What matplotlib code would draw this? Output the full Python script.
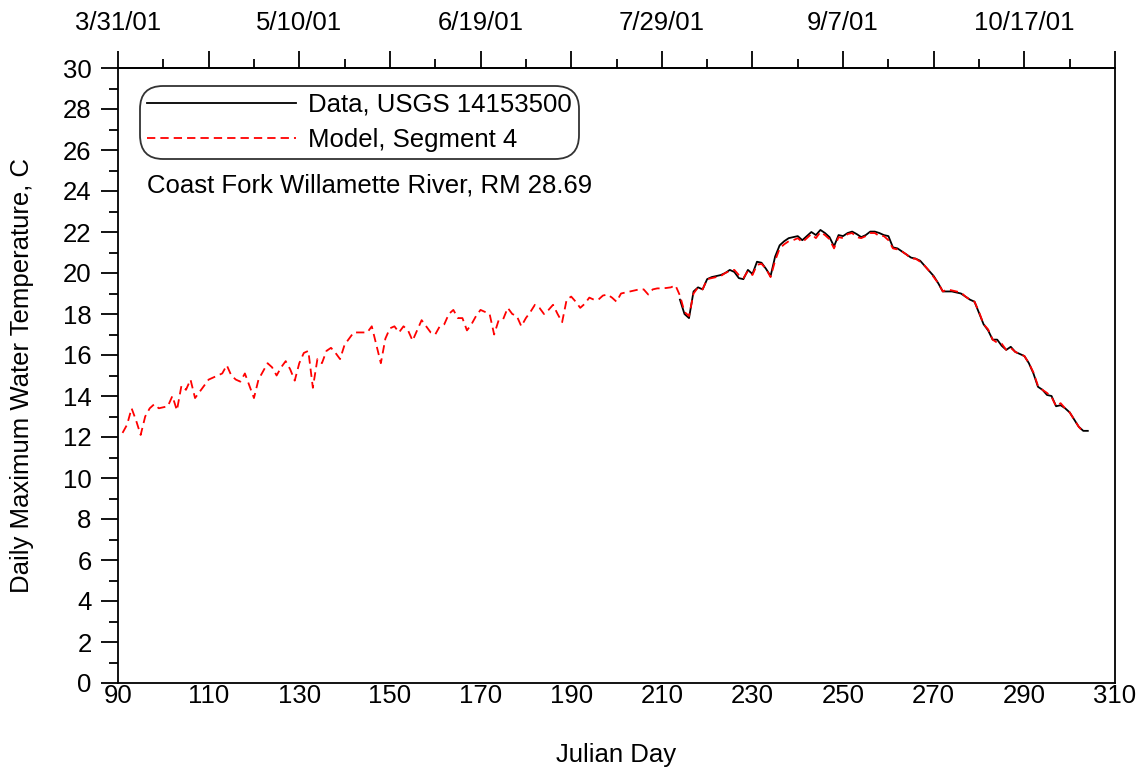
import matplotlib
matplotlib.use("Agg")
import matplotlib.pyplot as plt
from matplotlib.ticker import MultipleLocator, FixedLocator, FixedFormatter

plt.rcParams['font.family'] = ['Liberation Sans', 'DejaVu Sans']

# ---------------- data ----------------
model_start_day = 91
model_temp = [
    12.2, 12.6, 13.4, 12.8, 12.1, 13.0, 13.4, 13.6, 13.4, 13.45,   # 91-100
    13.5, 14.0, 13.3, 14.5, 14.3, 14.8, 13.9, 14.2, 14.5, 14.8,    # 101-110
    14.9, 15.0, 15.1, 15.5, 15.0, 14.8, 14.7, 15.1, 14.5, 13.9,    # 111-120
    14.8, 15.2, 15.6, 15.4, 15.0, 15.4, 15.7, 15.3, 14.75, 15.6,   # 121-130
    16.1, 16.2, 14.4, 15.8, 15.6, 16.2, 16.35, 16.1, 15.8, 16.5,   # 131-140
    16.8, 17.1, 17.1, 17.1, 17.1, 17.4, 16.5, 15.6, 16.8, 17.3,    # 141-150
    17.4, 17.1, 17.4, 17.2, 16.7, 17.2, 17.7, 17.4, 17.1, 17.0,    # 151-160
    17.4, 17.5, 18.0, 18.2, 17.8, 17.8, 17.2, 17.5, 17.9, 18.2,    # 161-170
    18.1, 18.0, 17.0, 17.7, 17.75, 18.3, 18.0, 17.9, 17.4, 17.8,   # 171-180
    18.1, 18.45, 18.3, 18.0, 18.2, 18.45, 18.0, 17.6, 18.7, 18.85, # 181-190
    18.6, 18.3, 18.5, 18.8, 18.7, 18.7, 18.9, 18.95, 18.8, 18.6,   # 191-200
    19.0, 19.05, 19.1, 19.15, 19.2, 19.2, 18.95, 19.2, 19.25, 19.25,  # 201-210
    19.27, 19.3, 19.4, 18.9, 18.1, 17.9, 19.0, 19.3, 19.2, 19.7,   # 211-220
    19.75, 19.8, 19.85, 20.0, 20.1, 20.15, 19.9, 19.75, 20.1, 19.9,  # 221-230
    20.4, 20.45, 20.2, 19.8, 20.6, 21.2, 21.4, 21.55, 21.6, 21.7,  # 231-240
    21.5, 21.7, 21.9, 21.7, 22.0, 21.85, 21.65, 21.2, 21.75, 21.7, # 241-250
    21.9, 21.95, 21.75, 21.7, 21.8, 21.95, 21.95, 21.8, 21.8, 21.6,  # 251-260
    21.2, 21.15, 21.05, 20.9, 20.7, 20.7, 20.55, 20.35, 20.1, 19.8,  # 261-270
    19.5, 19.1, 19.2, 19.15, 19.1, 19.05, 18.85, 18.7, 18.6, 18.1,   # 271-280
    17.5, 17.25, 16.75, 16.6, 16.55, 16.25, 16.35, 16.15, 16.05, 15.95,  # 281-290
    15.6, 15.15, 14.5, 14.3, 14.15, 13.95, 13.5, 13.65, 13.4, 13.2,  # 291-300
    12.85, 12.5, 12.25,                                               # 301-303
]
data_start_day = 214
data_temp = [
    18.7, 18.0, 17.8, 19.1, 19.3, 19.2, 19.7,                         # 214-220
    19.8, 19.85, 19.9, 20.0, 20.15, 20.05, 19.75, 19.7, 20.15, 19.95, # 221-230
    20.55, 20.5, 20.2, 19.85, 20.8, 21.35, 21.55, 21.7, 21.75, 21.8,  # 231-240
    21.6, 21.8, 22.0, 21.85, 22.1, 21.95, 21.75, 21.3, 21.85, 21.8,   # 241-250
    21.95, 22.02, 21.9, 21.75, 21.85, 22.02, 22.02, 21.95, 21.85, 21.8,  # 251-260
    21.25, 21.2, 21.05, 20.9, 20.75, 20.7, 20.6, 20.35, 20.1, 19.85,  # 261-270
    19.5, 19.1, 19.1, 19.1, 19.05, 19.0, 18.85, 18.7, 18.6, 18.05,    # 271-280
    17.5, 17.2, 16.75, 16.75, 16.45, 16.25, 16.4, 16.15, 16.05, 15.95,  # 281-290
    15.6, 15.1, 14.45, 14.3, 14.05, 14.0, 13.5, 13.55, 13.4, 13.2,    # 291-300
    12.85, 12.5, 12.3, 12.3,                                          # 301-304
]
model_days = list(range(model_start_day, model_start_day + len(model_temp)))
data_days = list(range(data_start_day, data_start_day + len(data_temp)))

x_ticks = list(range(90, 311, 20))
top_tick_days = [90, 130, 170, 210, 250, 290]
top_tick_labels = ["3/31/01", "5/10/01", "6/19/01", "7/29/01", "9/7/01", "10/17/01"]

# ---------------- figure ----------------
FS = 18.5
fig = plt.figure(figsize=(11.43, 7.73), dpi=100)
ax = fig.add_axes([118/1143, 1 - 683/773, (1115-118)/1143, (683-68)/773])

ax.plot(data_days, data_temp, color='black', lw=1.3, label='Data, USGS 14153500', zorder=3)
ax.plot(model_days, model_temp, color='red', lw=1.3, dashes=(4.6, 2.8),
        label='Model, Segment 4', zorder=4)

ax.set_xlim(90, 310)
ax.set_ylim(0, 30)
ax.xaxis.set_major_locator(FixedLocator(x_ticks))
ax.yaxis.set_major_locator(MultipleLocator(2))
ax.yaxis.set_minor_locator(MultipleLocator(1))

for s in ax.spines.values():
    s.set_linewidth(1.3)

ax.tick_params(axis='y', which='major', direction='out', length=12, width=1.3,
               labelsize=FS, pad=7, right=False)
ax.tick_params(axis='y', which='minor', direction='out', length=6.5, width=1.3, right=False)
ax.tick_params(axis='x', which='both', length=0, labelsize=FS, pad=1, top=False)

# top date axis
sec = ax.secondary_xaxis('top')
sec.xaxis.set_major_locator(FixedLocator(x_ticks))
lab = []
for d in x_ticks:
    lab.append(top_tick_labels[top_tick_days.index(d)] if d in top_tick_days else "")
sec.xaxis.set_major_formatter(FixedFormatter(lab))
sec.xaxis.set_minor_locator(FixedLocator([d + 10 for d in x_ticks[:-1]]))
sec.tick_params(axis='x', which='major', direction='out', length=12, width=1.3,
                labelsize=FS, pad=12)
sec.tick_params(axis='x', which='minor', direction='out', length=6.5, width=1.3)
sec.spines['top'].set_linewidth(1.3)

ax.set_xlabel('Julian Day', fontsize=FS, va='center')
ax.xaxis.set_label_coords(0.5, (683 - 755) / 615)
ax.set_ylabel('Daily Maximum Water Temperature, C', fontsize=FS, va='center')
ax.yaxis.set_label_coords((22 - 118) / 997, 0.5)

leg = ax.legend(loc='upper left', bbox_to_anchor=((144 - 118) / 997, (683 - 90) / 615),
                borderaxespad=0, fontsize=FS, handlelength=5.8, handletextpad=0.5,
                borderpad=0.1, labelspacing=0.45, frameon=True, fancybox=True)
fr = leg.get_frame()
fr.set_edgecolor('black')
fr.set_linewidth(1.3)
fr.set_boxstyle('round,pad=0.15,rounding_size=0.9')

ax.text((147 - 118) / 997, (683 - 185) / 615, 'Coast Fork Willamette River, RM 28.69',
        transform=ax.transAxes, fontsize=FS, ha='left', va='center')

fig.savefig('out.png', dpi=100)
